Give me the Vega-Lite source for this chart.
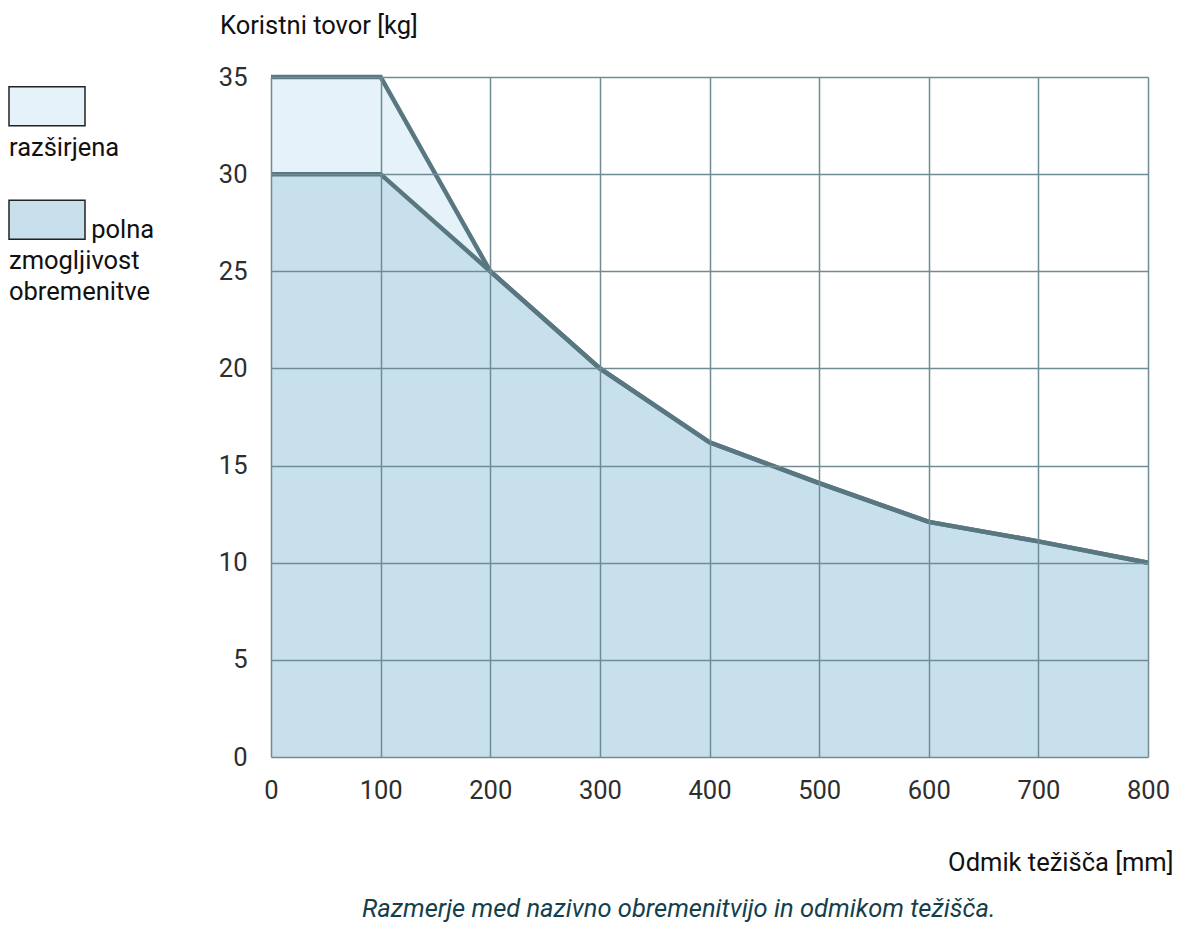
{
  "$schema": "https://vega.github.io/schema/vega-lite/v6.json",
  "width": 877,
  "height": 680,
  "autosize": {"type": "none"},
  "padding": {"left": 271, "top": 77, "right": 37, "bottom": 170},
  "background": "white",
  "config": {
    "font": "Roboto",
    "view": {"stroke": null},
    "axis": {
      "grid": true,
      "gridColor": "#6f8b93",
      "gridWidth": 1.5,
      "gridOpacity": 1,
      "domain": false,
      "ticks": false,
      "tickSize": 0,
      "labelFont": "Roboto",
      "labelFontSize": 25.5,
      "labelColor": "#2e2e2e",
      "labelFlush": false,
      "titleFont": "Roboto",
      "titleFontSize": 25.5,
      "titleFontWeight": "normal",
      "titleColor": "#111111"
    }
  },
  "title": {
    "text": "Razmerje med nazivno obremenitvijo in odmikom težišča.",
    "orient": "bottom",
    "anchor": "start",
    "frame": "group",
    "dx": 91,
    "offset": 21,
    "font": "Roboto",
    "fontSize": 25.5,
    "fontStyle": "italic",
    "fontWeight": "normal",
    "color": "#153f4b",
    "baseline": "top"
  },
  "data": {
    "values": [
      {"series": "razširjena", "x": 0, "y": 35},
      {"series": "razširjena", "x": 100, "y": 35},
      {"series": "razširjena", "x": 200, "y": 25},
      {"series": "razširjena", "x": 300, "y": 20},
      {"series": "razširjena", "x": 400, "y": 16.2},
      {"series": "razširjena", "x": 500, "y": 14.1},
      {"series": "razširjena", "x": 600, "y": 12.1},
      {"series": "razširjena", "x": 700, "y": 11.1},
      {"series": "razširjena", "x": 800, "y": 10},
      {"series": "polna zmogljivost obremenitve", "x": 0, "y": 30},
      {"series": "polna zmogljivost obremenitve", "x": 100, "y": 30},
      {"series": "polna zmogljivost obremenitve", "x": 200, "y": 25},
      {"series": "polna zmogljivost obremenitve", "x": 300, "y": 20},
      {"series": "polna zmogljivost obremenitve", "x": 400, "y": 16.2},
      {"series": "polna zmogljivost obremenitve", "x": 500, "y": 14.1},
      {"series": "polna zmogljivost obremenitve", "x": 600, "y": 12.1},
      {"series": "polna zmogljivost obremenitve", "x": 700, "y": 11.1},
      {"series": "polna zmogljivost obremenitve", "x": 800, "y": 10}
    ]
  },
  "encoding": {
    "x": {
      "field": "x",
      "type": "quantitative",
      "scale": {"domain": [0, 800], "nice": false},
      "axis": {
        "values": [0, 100, 200, 300, 400, 500, 600, 700, 800],
        "zindex": 1,
        "labelPadding": 21,
        "title": "Odmik težišča [mm]",
        "titleX": 902,
        "titleY": 113,
        "titleAlign": "right",
        "titleAnchor": null,
        "titleBaseline": "alphabetic"
      }
    },
    "y": {
      "field": "y",
      "type": "quantitative",
      "stack": null,
      "scale": {"domain": [0, 35], "nice": false},
      "axis": {
        "values": [0, 5, 10, 15, 20, 25, 30, 35],
        "zindex": 1,
        "labelPadding": 24,
        "title": "Koristni tovor [kg]",
        "titleAngle": 0,
        "titleX": -51.5,
        "titleY": -43.7,
        "titleAlign": "left",
        "titleAnchor": null,
        "titleBaseline": "alphabetic"
      }
    }
  },
  "layer": [
    {
      "transform": [{"filter": "datum.series === 'razširjena'"}],
      "mark": {"type": "area", "opacity": 1},
      "encoding": {
        "fill": {
          "field": "series",
          "type": "nominal",
          "scale": {"domain": ["razširjena", "polna zmogljivost obremenitve"], "range": ["#e6f2f9", "#c8e0ec"]},
          "legend": {
            "orient": "none",
            "legendX": -287.5,
            "legendY": 66,
            "title": null,
            "direction": "vertical",
            "padding": 0,
            "labelFont": "Roboto",
            "labelFontSize": 25.5,
            "labelColor": "#111111",
            "labelBaseline": "alphabetic",
            "labelOffset": 0,
            "labelLimit": 400,
            "symbolSize": 4,
            "symbolStrokeColor": "#222222",
            "symbolStrokeWidth": 1.5,
            "symbolOpacity": 1,
            "rowPadding": 34.6,
            "labelExpr": "datum.value === 'razširjena' ? 'razširjena' : ['\\u200b\\u00a0\\u00a0\\u00a0\\u00a0\\u00a0\\u00a0\\u00a0\\u00a0\\u00a0\\u00a0\\u00a0\\u00a0\\u00a0polna', 'zmogljivost', 'obremenitve']",
            "encode": {
              "labels": {"update": {"lineHeight": {"value": 31}}},
              "symbols": {"update": {"stroke": {"value": "#222222"}, "strokeWidth": {"value": 1.5}, "opacity": {"value": 1}}}
            }
          }
        }
      }
    },
    {
      "transform": [{"filter": "datum.series !== 'razširjena'"}],
      "mark": {"type": "area", "opacity": 1},
      "encoding": {
        "fill": {
          "field": "series",
          "type": "nominal",
          "scale": {"domain": ["razširjena", "polna zmogljivost obremenitve"], "range": ["#e6f2f9", "#c8e0ec"]},
          "legend": {
            "orient": "none",
            "legendX": -287.5,
            "legendY": 66,
            "title": null,
            "direction": "vertical",
            "padding": 0,
            "labelFont": "Roboto",
            "labelFontSize": 25.5,
            "labelColor": "#111111",
            "labelBaseline": "alphabetic",
            "labelOffset": 0,
            "labelLimit": 400,
            "symbolSize": 4,
            "symbolStrokeColor": "#222222",
            "symbolStrokeWidth": 1.5,
            "symbolOpacity": 1,
            "rowPadding": 34.6,
            "labelExpr": "datum.value === 'razširjena' ? 'razširjena' : ['\\u200b\\u00a0\\u00a0\\u00a0\\u00a0\\u00a0\\u00a0\\u00a0\\u00a0\\u00a0\\u00a0\\u00a0\\u00a0\\u00a0polna', 'zmogljivost', 'obremenitve']",
            "encode": {
              "labels": {"update": {"lineHeight": {"value": 31}}},
              "symbols": {"update": {"stroke": {"value": "#222222"}, "strokeWidth": {"value": 1.5}, "opacity": {"value": 1}}}
            }
          }
        }
      }
    },
    {
      "mark": {"type": "line", "color": "#587780", "strokeWidth": 4.5},
      "encoding": {
        "detail": {"field": "series", "type": "nominal"}
      }
    },
    {
      "mark": {"type": "point", "filled": true, "opacity": 0},
      "encoding": {
        "fill": {
          "field": "series",
          "type": "nominal",
          "scale": {"domain": ["razširjena", "polna zmogljivost obremenitve"], "range": ["#e6f2f9", "#c8e0ec"]},
          "legend": {
            "orient": "none",
            "legendX": -287.5,
            "legendY": 66,
            "title": null,
            "direction": "vertical",
            "padding": 0,
            "labelFont": "Roboto",
            "labelFontSize": 25.5,
            "labelColor": "#111111",
            "labelBaseline": "alphabetic",
            "labelOffset": 0,
            "labelLimit": 400,
            "symbolSize": 4,
            "symbolStrokeColor": "#222222",
            "symbolStrokeWidth": 1.5,
            "symbolOpacity": 1,
            "rowPadding": 34.6,
            "labelExpr": "datum.value === 'razširjena' ? 'razširjena' : ['\\u200b\\u00a0\\u00a0\\u00a0\\u00a0\\u00a0\\u00a0\\u00a0\\u00a0\\u00a0\\u00a0\\u00a0\\u00a0\\u00a0polna', 'zmogljivost', 'obremenitve']",
            "encode": {
              "labels": {"update": {"lineHeight": {"value": 31}}},
              "symbols": {"update": {"stroke": {"value": "#222222"}, "strokeWidth": {"value": 1.5}, "opacity": {"value": 1}}}
            }
          }
        },
        "shape": {
          "field": "series",
          "type": "nominal",
          "scale": {"domain": ["razširjena", "polna zmogljivost obremenitve"], "range": ["M12.75,-69H88.75V-30H12.75Z", "M12.75,-38H88.75V1H12.75Z"]},
          "legend": {
            "orient": "none",
            "legendX": -287.5,
            "legendY": 66,
            "title": null,
            "direction": "vertical",
            "padding": 0,
            "labelFont": "Roboto",
            "labelFontSize": 25.5,
            "labelColor": "#111111",
            "labelBaseline": "alphabetic",
            "labelOffset": 0,
            "labelLimit": 400,
            "symbolSize": 4,
            "symbolStrokeColor": "#222222",
            "symbolStrokeWidth": 1.5,
            "symbolOpacity": 1,
            "rowPadding": 34.6,
            "labelExpr": "datum.value === 'razširjena' ? 'razširjena' : ['\\u200b\\u00a0\\u00a0\\u00a0\\u00a0\\u00a0\\u00a0\\u00a0\\u00a0\\u00a0\\u00a0\\u00a0\\u00a0\\u00a0polna', 'zmogljivost', 'obremenitve']",
            "encode": {
              "labels": {"update": {"lineHeight": {"value": 31}}},
              "symbols": {"update": {"stroke": {"value": "#222222"}, "strokeWidth": {"value": 1.5}, "opacity": {"value": 1}}}
            }
          }
        }
      }
    }
  ]
}
